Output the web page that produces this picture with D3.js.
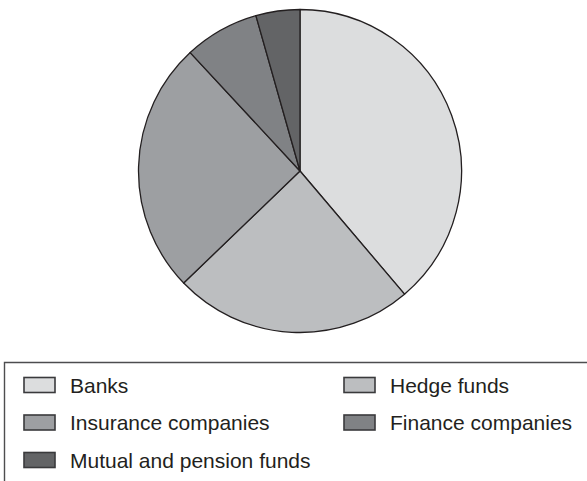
<!DOCTYPE html>
<html>
<head>
<meta charset="utf-8">
<script src="https://cdn.jsdelivr.net/npm/d3@7"></script>
<style>
  html, body { margin: 0; padding: 0; background: #fff; }
  svg { display: block; }
</style>
</head>
<body>
<svg id="chart" width="587" height="481"></svg>
<script>
// Share of holdings by institution type (percent)
const categories = ["Banks", "Hedge funds", "Insurance companies", "Finance companies", "Mutual and pension funds"];
const shares = [38.8, 24.0, 25.3, 7.5, 4.4];
const fills = ["#dcddde", "#bcbec0", "#9d9fa2", "#808285", "#636466"];

// Legend layout: two columns, filled row by row
const legendOrder = [0, 1, 2, 3, 4];

const svg = d3.select("#chart");
const W = 587, H = 481;
const cx = 300, cy = 171, r = 161.5;

const data = categories.map((c, i) => ({ name: c, value: shares[i], fill: fills[i] }));

const pie = d3.pie().value(d => d.value).sort(null).startAngle(0).endAngle(2 * Math.PI);
const arc = d3.arc().innerRadius(0).outerRadius(r);

const g = svg.append("g").attr("transform", `translate(${cx},${cy})`);
g.selectAll("path")
  .data(pie(data))
  .join("path")
  .attr("d", arc)
  .attr("fill", d => d.data.fill)
  .attr("stroke", "#231f20")
  .attr("stroke-width", 1.3)
  .attr("stroke-linejoin", "round");

// Legend frame (open on the right and bottom edges)
const boxTop = 362.5, boxLeft = 4.5;
svg.append("path")
  .attr("d", `M${W + 2},${boxTop} H${boxLeft} V${H + 2}`)
  .attr("fill", "none")
  .attr("stroke", "#4d4d4f")
  .attr("stroke-width", 1.4);

const colX = [24, 344];
const rowY = [377.5, 415, 452.5];
const sw = 31, sh = 15;

const legend = svg.append("g");
legendOrder.forEach((idx, k) => {
  const col = k % 2, row = Math.floor(k / 2);
  const x = colX[col], y = rowY[row];
  legend.append("rect")
    .attr("x", x).attr("y", y)
    .attr("width", sw).attr("height", sh)
    .attr("fill", fills[idx])
    .attr("stroke", "#3a3a3c")
    .attr("stroke-width", 1.6);
  legend.append("text")
    .attr("x", x + sw + 15)
    .attr("y", y + sh)
    .attr("font-family", "Liberation Sans, Arial, Helvetica, sans-serif")
    .attr("font-size", 21)
    .attr("fill", "#231f20")
    .text(categories[idx]);
});
</script>
</body>
</html>
